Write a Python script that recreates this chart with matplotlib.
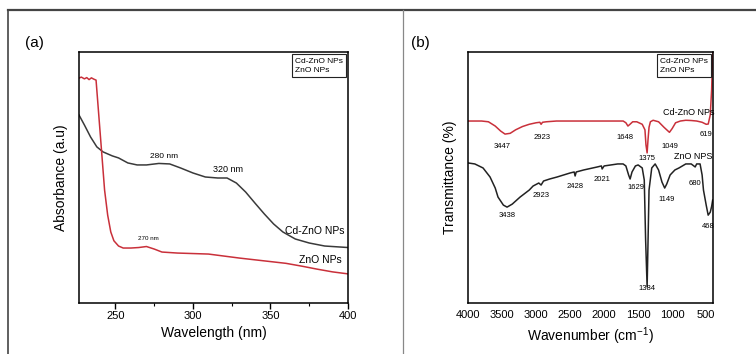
import matplotlib
matplotlib.use("Agg")
import matplotlib.pyplot as plt
from matplotlib.lines import Line2D
from matplotlib.ticker import MultipleLocator

plt.rcParams['font.family'] = ['Liberation Sans', 'DejaVu Sans']
plt.rcParams['mathtext.default'] = 'regular'

# (a) UV-Vis absorbance
wl_zno = [226.5, 228, 230, 231.5, 233, 234.5, 236, 237.5, 239, 241, 243, 245, 247, 249, 252, 255,
          260, 265, 270, 275, 280, 290, 300, 310, 320, 330, 340, 350, 360, 370, 380, 390, 400]
abs_zno = [0.896, 0.90, 0.893, 0.898, 0.89, 0.897, 0.892, 0.888, 0.769, 0.61, 0.45, 0.35, 0.283,
           0.248, 0.227, 0.219, 0.219, 0.221, 0.225, 0.215, 0.203, 0.199, 0.197, 0.195, 0.187,
           0.179, 0.172, 0.165, 0.158, 0.147, 0.135, 0.124, 0.116]
wl_cd = [226.5, 230, 234, 238, 242, 248, 252, 258, 264, 270, 278, 285, 292, 300, 308, 316, 322,
         328, 334, 340, 346, 352, 358, 366, 375, 385, 400]
abs_cd = [0.749, 0.709, 0.661, 0.622, 0.602, 0.586, 0.578, 0.558, 0.55, 0.55, 0.556, 0.554, 0.538,
          0.518, 0.502, 0.498, 0.498, 0.478, 0.442, 0.398, 0.355, 0.315, 0.283, 0.255, 0.239,
          0.227, 0.221]

# (b) FTIR transmittance
wn_cd = [4000, 3800, 3700, 3600, 3520, 3456, 3380, 3300, 3200, 3100, 3000, 2945, 2926, 2905, 2850,
         2700, 2000, 1720, 1680, 1650, 1620, 1580, 1520, 1440, 1400, 1385, 1368, 1355, 1340, 1320,
         1280, 1200, 1120, 1040, 1000, 950, 880, 800, 720, 640, 560, 500, 470, 440, 420, 410, 400]
tr_cd = [0.725, 0.725, 0.722, 0.705, 0.685, 0.673, 0.676, 0.69, 0.703, 0.712, 0.718, 0.72, 0.712,
         0.72, 0.722, 0.725, 0.725, 0.725, 0.718, 0.705, 0.712, 0.722, 0.722, 0.712, 0.69, 0.63,
         0.598, 0.65, 0.70, 0.722, 0.728, 0.722, 0.70, 0.68, 0.695, 0.718, 0.725, 0.728, 0.727,
         0.725, 0.72, 0.712, 0.713, 0.75, 0.85, 0.95, 1.0]
wn_zno = [4000, 3900, 3779, 3676, 3600, 3559, 3480, 3426, 3350, 3235, 3100, 3044, 2960, 2926, 2890,
          2800, 2691, 2500, 2440, 2426, 2410, 2300, 2100, 2040, 2029, 2000, 1800, 1721, 1680, 1640,
          1618, 1590, 1540, 1500, 1440, 1410, 1390, 1368, 1355, 1340, 1300, 1250, 1200, 1150, 1110,
          1080, 1030, 960, 900, 800, 720, 662, 640, 590, 560, 540, 500, 471, 440, 420, 405]
tr_zno = [0.558, 0.554, 0.538, 0.502, 0.458, 0.422, 0.39, 0.382, 0.394, 0.422, 0.45, 0.466, 0.478,
          0.47, 0.486, 0.494, 0.502, 0.518, 0.522, 0.506, 0.522, 0.53, 0.542, 0.546, 0.534, 0.546,
          0.554, 0.554, 0.546, 0.51, 0.494, 0.522, 0.546, 0.55, 0.538, 0.49, 0.25, 0.064, 0.24,
          0.45, 0.538, 0.554, 0.53, 0.482, 0.458, 0.474, 0.51, 0.53, 0.538, 0.554, 0.554, 0.542,
          0.554, 0.554, 0.51, 0.45, 0.39, 0.35, 0.362, 0.385, 0.41]

peaks_cd = [("3447", 3500, 0.625), ("2923", 2912, 0.661), ("1648", 1691, 0.661),
            ("1375", 1368, 0.574), ("1049", 1029, 0.622), ("619", 500, 0.673)]
peaks_zno = [("3438", 3426, 0.35), ("2923", 2926, 0.43), ("2428", 2426, 0.466),
             ("2021", 2029, 0.494), ("1629", 1529, 0.462), ("1384", 1368, 0.056),
             ("1149", 1088, 0.414), ("680", 662, 0.478), ("468", 471, 0.303)]

red = '#c9303a'
dark = '#3a3a3a'

fig = plt.figure(figsize=(7.56, 3.54), dpi=100)

# outer frame of the figure panel
fig.add_artist(Line2D([8/756, 1], [1 - 10/354] * 2, transform=fig.transFigure, color='#444444', lw=1.6))
fig.add_artist(Line2D([8/756] * 2, [0, 1 - 10/354], transform=fig.transFigure, color='#444444', lw=1.2))
fig.add_artist(Line2D([403/756] * 2, [0, 1 - 10/354], transform=fig.transFigure, color='#888888', lw=0.9))

ax1 = fig.add_axes([79/756, 51/354, 269/756, 251/354])
ax1.plot(wl_cd, abs_cd, color=dark, lw=1.1, label='Cd-ZnO NPs')
ax1.plot(wl_zno, abs_zno, color=red, lw=1.1, label='ZnO NPs')
ax1.set_xlim(226.5, 400)
ax1.set_ylim(0, 1)
ax1.set_yticks([])
ax1.set_xticks([250, 300, 350, 400])
ax1.xaxis.set_minor_locator(MultipleLocator(25))
ax1.tick_params(axis='x', which='major', length=4, width=1, labelsize=8, pad=2)
ax1.tick_params(axis='x', which='minor', length=2.5, width=0.8)
ax1.set_xlabel('Wavelength (nm)', fontsize=10, labelpad=3)
ax1.set_ylabel('Absorbance (a.u)', fontsize=10, labelpad=8)
ax1.text(281.5, 0.582, '280 nm', fontsize=6, ha='center', va='center')
ax1.text(322.6, 0.53, '320 nm', fontsize=6.5, ha='center', va='center')
ax1.text(271, 0.255, '270 nm', fontsize=4.5, ha='center', va='center')
ax1.text(398, 0.287, 'Cd-ZnO NPs', fontsize=7.5, ha='right', va='center')
ax1.text(396, 0.171, 'ZnO NPs', fontsize=7.5, ha='right', va='center')
fig.text(25/756, 1 - 43/354, '(a)', fontsize=11, ha='left', va='center')

ax2 = fig.add_axes([468/756, 51/354, 245/756, 251/354])
ax2.plot(wn_cd, tr_cd, color=red, lw=1.1, label='Cd-ZnO NPs')
ax2.plot(wn_zno, tr_zno, color='#222222', lw=1.1, label='ZnO NPs')
ax2.set_xlim(4000, 400)
ax2.set_ylim(0, 1)
ax2.set_yticks([])
ax2.set_xticks([4000, 3500, 3000, 2500, 2000, 1500, 1000, 500])
ax2.tick_params(axis='x', length=0, labelsize=8, pad=5)
ax2.set_xlabel('Wavenumber (cm$^{-1}$)', fontsize=10, labelpad=4)
ax2.set_ylabel('Transmittance (%)', fontsize=10, labelpad=8)
for txt, x, y in peaks_cd + peaks_zno:
    ax2.text(x, y, txt, fontsize=5.5, ha='center', va='center')
ax2.text(750, 0.757, 'Cd-ZnO NPs', fontsize=6.5, ha='center', va='center')
ax2.text(690, 0.582, 'ZnO NPS', fontsize=6.5, ha='center', va='center')
fig.text(411/756, 1 - 43/354, '(b)', fontsize=11, ha='left', va='center')

for ax in (ax1, ax2):
    for s in ax.spines.values():
        s.set_linewidth(1.1)
    leg = ax.legend(loc='upper right', fontsize=6, handlelength=0, handletextpad=0,
                    fancybox=False, borderpad=0.35, labelspacing=0.2, borderaxespad=0.25,
                    framealpha=1)
    leg.get_frame().set_edgecolor('#222222')
    leg.get_frame().set_linewidth(0.8)
    for h in leg.legend_handles:
        h.set_visible(False)

fig.savefig('out.png', dpi=100)
